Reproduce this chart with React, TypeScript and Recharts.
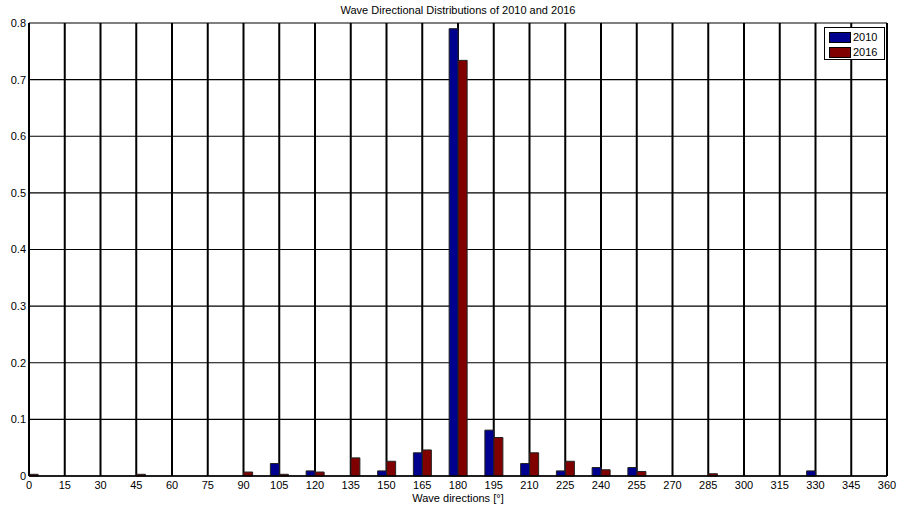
import React from 'react';
import { BarChart, Bar, XAxis, YAxis, CartesianGrid, Label } from 'recharts';

const directions = [0, 15, 30, 45, 60, 75, 90, 105, 120, 135, 150, 165, 180, 195, 210, 225, 240, 255, 270, 285, 300, 315, 330, 345, 360];
const values2010 = [0, 0, 0, 0, 0, 0, 0, 0.022, 0.009, 0, 0.009, 0.041, 0.79, 0.081, 0.022, 0.009, 0.015, 0.015, 0, 0, 0, 0, 0.009, 0, 0];
const values2016 = [0.003, 0, 0, 0.003, 0, 0, 0.007, 0.003, 0.007, 0.032, 0.026, 0.046, 0.734, 0.068, 0.041, 0.026, 0.011, 0.008, 0, 0.004, 0, 0, 0, 0, 0];
const yTicks = [0, 0.1, 0.2, 0.3, 0.4, 0.5, 0.6, 0.7, 0.8];

const data = directions.map((d, i) => ({ dir: d, y2010: values2010[i], y2016: values2016[i] }));

const FONT = '"Liberation Sans", Arial, sans-serif';
const BLUE = '#00008f';
const RED = '#800000';

export default function App() {
  return (
    <div style={{ position: 'absolute', left: 0, top: 0, width: 898, height: 506, background: '#fff', fontFamily: FONT }}>
      <div style={{ position: 'absolute', left: 29, width: 858, top: 4, textAlign: 'center', fontSize: 11, color: '#000' }}>
        Wave Directional Distributions of 2010 and 2016
      </div>
      <BarChart width={898} height={506} data={data} barGap={0} margin={{ top: 23, right: 11, left: 0, bottom: 0 }}>
        {/* vertical lines are heavier than horizontal ones in the original */}
        <CartesianGrid stroke="#000" strokeWidth={2} horizontal={false} />
        <CartesianGrid stroke="#000" strokeWidth={1.2} vertical={false} />
        <XAxis
          dataKey="dir"
          type="number"
          domain={[0, 360]}
          ticks={directions}
          interval={0}
          height={30}
          tickLine={false}
          tickSize={3}
          axisLine={{ stroke: '#000', strokeWidth: 1.5 }}
          tick={{ fill: '#000', fontSize: 11, fontFamily: FONT }}
        >
          <Label value="Wave directions [°]" position="insideBottom" offset={4} style={{ fill: '#000', fontSize: 11, fontFamily: FONT }} />
        </XAxis>
        <YAxis
          type="number"
          domain={[0, 0.8]}
          ticks={yTicks}
          interval={0}
          width={29}
          tickLine={false}
          tickSize={2}
          tickMargin={1}
          axisLine={{ stroke: '#000', strokeWidth: 2 }}
          tick={{ fill: '#000', fontSize: 11, fontFamily: FONT }}
        />
        <Bar dataKey="y2010" fill={BLUE} stroke="#222" strokeWidth={1} barSize={9} isAnimationActive={false} />
        <Bar dataKey="y2016" fill={RED} stroke="#222" strokeWidth={1} barSize={9} isAnimationActive={false} />
      </BarChart>
      <div style={{ position: 'absolute', left: 824, top: 27, width: 59, height: 31, border: '1px solid #000', background: '#fff', fontSize: 11 }}>
        {[{ name: '2010', color: BLUE }, { name: '2016', color: RED }].map((it, i) => (
          <div key={it.name} style={{ position: 'absolute', left: 4, top: 3 + i * 15, display: 'flex', alignItems: 'center' }}>
            <span style={{ display: 'inline-block', width: 22, height: 11, background: it.color, border: '1px solid #000', boxSizing: 'border-box' }} />
            <span style={{ marginLeft: 2, lineHeight: '12px' }}>{it.name}</span>
          </div>
        ))}
      </div>
    </div>
  );
}
